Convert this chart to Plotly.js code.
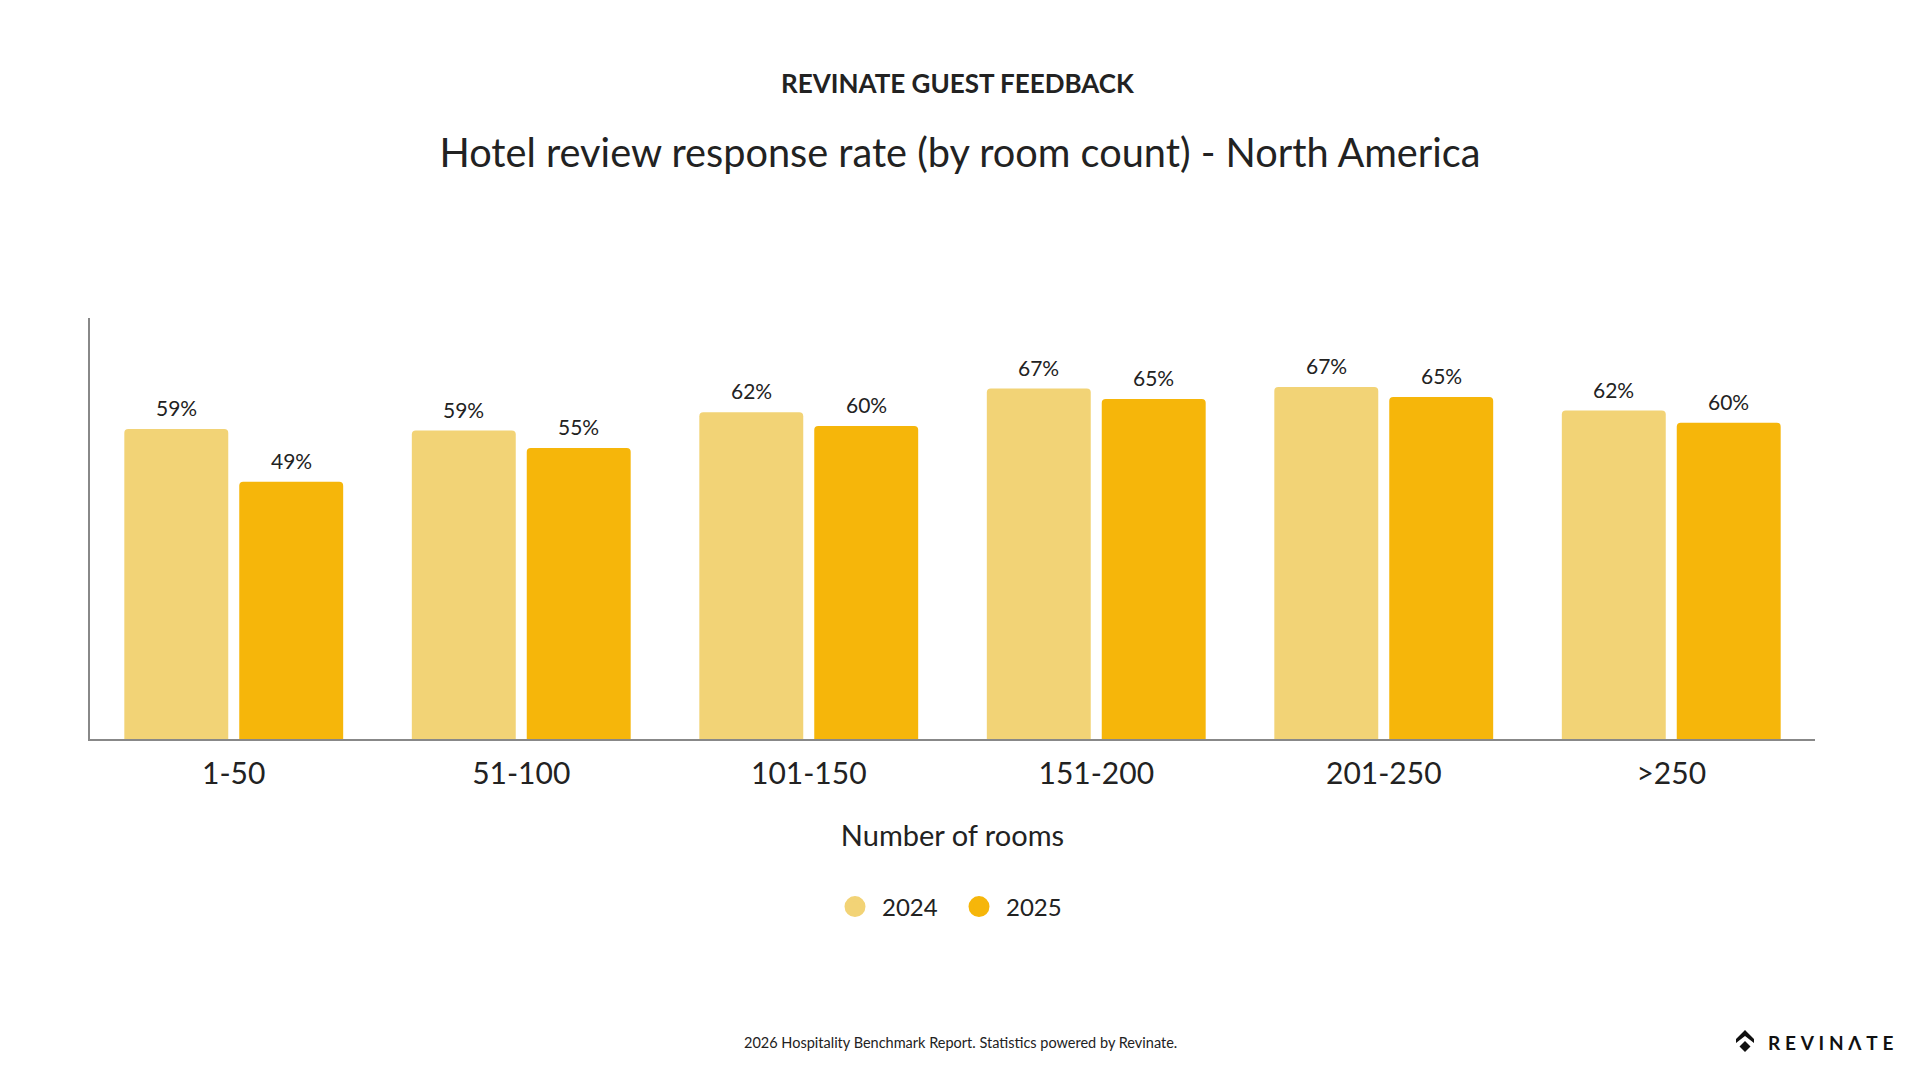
<!DOCTYPE html>
<html>
<head>
<meta charset="utf-8">
<script src="https://cdn.plot.ly/plotly-3.0.1.min.js"></script>
<style>
  html, body { margin: 0; padding: 0; background: #ffffff; }
  #chart { width: 1920px; height: 1080px; }
</style>
</head>
<body>
<div id="chart"></div>
<script>
// ---- data ----
var categories = ["1-50", "51-100", "101-150", "151-200", "201-250", ">250"];
var seriesNames = ["2024", "2025"];
var values2024 = [58.9, 58.6, 62.1, 66.6, 66.9, 62.4];
var values2025 = [48.9, 55.3, 59.5, 64.6, 65.0, 60.1];
var colors = ["#F2D376", "#F6B60A"];

var headerText = "REVINATE GUEST FEEDBACK";
var titleText = "Hotel review response rate (by room count) - North America";
var xTitleText = "Number of rooms";
var footerText = "2026 Hospitality Benchmark Report. Statistics powered by Revinate.";
var logoText = "R\u2009\u200A\u200AE\u2009\u200A\u200AV\u2009\u200A\u200AI\u2009\u200A\u200AN\u2009\u200A\u200A\u039B\u2009\u200A\u200AT\u2009\u200A\u200AE";

var FONT = "Lato, 'Open Sans', sans-serif";
var TXT = "#222222";

// layout constants (style, not data)
var ML = 90, MR = 105, MT = 318, MB = 341, W = 1920, H = 1080;
var PLOT_W = W - ML - MR, PLOT_H = H - MT - MB;
var BARGAP = 0.2005, BARGROUPGAP = 0.0957;
function px2paperX(px) { return (px - ML) / PLOT_W; }
function px2paperY(py) { return (H - MB - py) / PLOT_H; }
var slotPx = PLOT_W / categories.length * (1 - BARGAP) / seriesNames.length;

function barTrace(name, vals, color) {
  return {
    type: "bar",
    name: name,
    x: categories,
    y: vals,
    marker: { color: color, cornerradius: 4 },
    showlegend: false,
    hovertemplate: "%{x}: %{y:.0f}%<extra>" + name + "</extra>"
  };
}
function legendTrace(name, color) {
  return {
    type: "scatter",
    mode: "markers",
    name: name,
    x: [null],
    y: [null],
    marker: { symbol: "circle", size: 16, color: color, line: { color: color, width: 5 } },
    showlegend: true,
    hoverinfo: "skip"
  };
}

var allSeries = [values2024, values2025];
var data = [
  barTrace(seriesNames[0], values2024, colors[0]),
  barTrace(seriesNames[1], values2025, colors[1]),
  legendTrace(seriesNames[0], colors[0]),
  legendTrace(seriesNames[1], colors[1])
];

// value labels placed through the axes, above each bar
var labelAnnotations = [];
allSeries.forEach(function (vals, si) {
  var shift = (si - (seriesNames.length - 1) / 2) * slotPx;
  vals.forEach(function (v, ci) {
    labelAnnotations.push({
      x: categories[ci], y: v, xref: "x", yref: "y",
      text: Math.round(v) + "%",
      showarrow: false, xanchor: "center", yanchor: "bottom",
      xshift: shift, yshift: 7,
      font: { family: FONT, size: 21, color: TXT }
    });
  });
});

var layout = {
  width: W,
  height: H,
  paper_bgcolor: "#ffffff",
  plot_bgcolor: "#ffffff",
  font: { family: FONT, color: TXT },
  margin: { l: ML, r: MR, t: MT, b: MB, pad: 0 },
  barmode: "group",
  bargap: BARGAP,
  bargroupgap: BARGROUPGAP,
  title: {
    text: titleText,
    font: { family: FONT, size: 39.7, color: TXT },
    x: 0.5, xref: "container", xanchor: "center",
    y: 1 - 153 / 1080, yref: "container", yanchor: "middle"
  },
  xaxis: {
    type: "category",
    showline: true, linecolor: "#888888", linewidth: 2,
    showgrid: false, zeroline: false, ticks: "",
    tickfont: { family: FONT, size: 30, color: TXT },
    ticklabelstandoff: 7,
    title: { text: xTitleText, font: { family: FONT, size: 29, color: TXT }, standoff: 37 },
    fixedrange: true
  },
  yaxis: {
    range: [0, 80],
    showline: true, linecolor: "#888888", linewidth: 2,
    showgrid: false, zeroline: false, showticklabels: false, ticks: "",
    fixedrange: true
  },
  legend: {
    orientation: "h",
    x: px2paperX(952), xanchor: "center",
    y: px2paperY(907), yanchor: "middle",
    font: { family: FONT, size: 24, color: TXT },
    itemwidth: 44,
    entrywidth: 65,
    bgcolor: "rgba(0,0,0,0)"
  },
  annotations: labelAnnotations.concat([
    {
      text: "<b>" + headerText + "</b>",
      xref: "paper", yref: "paper",
      x: px2paperX(958), y: px2paperY(83),
      xanchor: "center", yanchor: "middle", showarrow: false,
      font: { family: FONT, size: 26, color: TXT }
    },
    {
      text: footerText,
      xref: "paper", yref: "paper",
      x: px2paperX(960), y: px2paperY(1042),
      xanchor: "center", yanchor: "middle", showarrow: false,
      font: { family: FONT, size: 14.5, color: TXT }
    },
    {
      text: "<b>" + logoText + "</b>",
      xref: "paper", yref: "paper",
      x: px2paperX(1766), y: px2paperY(1042),
      xanchor: "left", yanchor: "middle", showarrow: false,
      font: { family: FONT, size: 19, color: "#111111" }
    }
  ]),
  shapes: [
    {
      type: "path", xref: "paper", yref: "paper",
      xsizemode: "pixel", ysizemode: "pixel",
      xanchor: px2paperX(1745), yanchor: px2paperY(1041),
      path: "M 0 11 L 9 2 L 9 -2 L 0 5 L -9 -2 L -9 2 Z",
      fillcolor: "#111111", line: { width: 0 }
    },
    {
      type: "path", xref: "paper", yref: "paper",
      xsizemode: "pixel", ysizemode: "pixel",
      xanchor: px2paperX(1745), yanchor: px2paperY(1041),
      path: "M 0 0 L 5.5 -5.5 L 0 -11 L -5.5 -5.5 Z",
      fillcolor: "#111111", line: { width: 0 }
    }
  ]
};

Plotly.newPlot("chart", data, layout, { displayModeBar: false, responsive: false });
</script>
</body>
</html>
